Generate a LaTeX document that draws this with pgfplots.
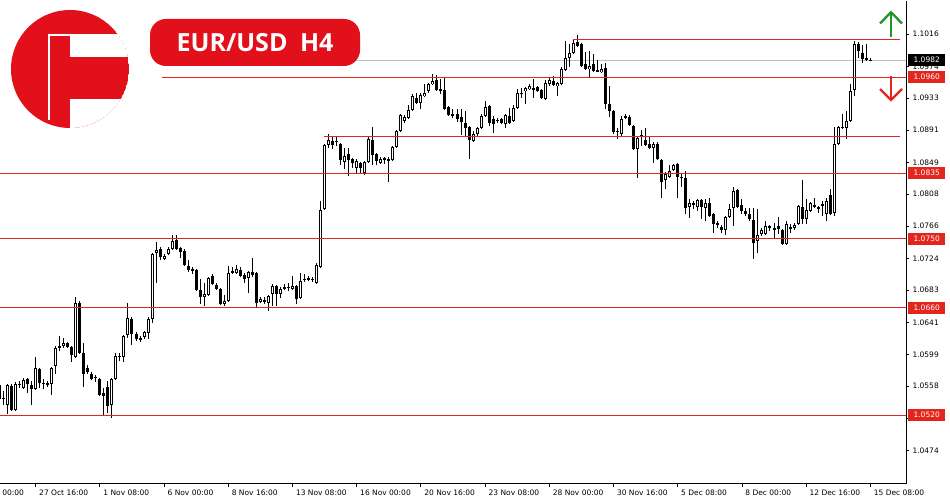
\documentclass[border=0pt]{standalone}
\usepackage{fontspec}
\setmainfont{DejaVu Sans}
\newfontfamily\titlefont{Open Sans}
\usepackage{pgfplots}
\usepackage{pgfplotstable}
\pgfplotsset{compat=1.18}
\definecolor{mtred}{RGB}{226,38,30}
\definecolor{logored}{RGB}{226,16,26}
\definecolor{upgreen}{RGB}{30,150,40}
\definecolor{bidgrey}{RGB}{192,192,192}

\pgfplotstableread{
x o h l c
-1 1.05598 1.05624 1.05390 1.05416
0 1.05429 1.05520 1.05338 1.05416
1 1.05338 1.05611 1.05221 1.05598
2 1.05585 1.05611 1.05260 1.05273
3 1.05273 1.05637 1.05260 1.05611
4 1.05598 1.05650 1.05559 1.05611
5 1.05559 1.05689 1.05546 1.05663
6 1.05676 1.05689 1.05494 1.05611
7 1.05598 1.05650 1.05338 1.05546
8 1.05546 1.05962 1.05533 1.05819
9 1.05806 1.05819 1.05559 1.05624
10 1.05611 1.05676 1.05546 1.05624
11 1.05611 1.05650 1.05572 1.05611
12 1.05611 1.05832 1.05468 1.05819
13 1.05845 1.06105 1.05741 1.06079
14 1.06079 1.06235 1.06040 1.06105
15 1.06105 1.06209 1.06079 1.06144
16 1.06144 1.06157 1.06079 1.06092
17 1.06092 1.06105 1.05897 1.05988
18 1.05962 1.06742 1.05949 1.06664
19 1.06664 1.06690 1.06001 1.06014
20 1.06014 1.06144 1.05572 1.05741
21 1.05819 1.05858 1.05741 1.05767
22 1.05741 1.05767 1.05663 1.05676
23 1.05702 1.05728 1.05637 1.05689
24 1.05676 1.05689 1.05455 1.05468
25 1.05494 1.05559 1.05208 1.05455
26 1.05572 1.05650 1.05234 1.05325
27 1.05338 1.05689 1.05169 1.05676
28 1.05676 1.06014 1.05663 1.05975
29 1.05962 1.06014 1.05910 1.05975
30 1.05962 1.06248 1.05897 1.06235
31 1.06248 1.06664 1.06209 1.06469
32 1.06456 1.06482 1.06118 1.06261
33 1.06261 1.06287 1.06170 1.06196
34 1.06209 1.06235 1.06157 1.06183
35 1.06222 1.06300 1.06196 1.06287
36 1.06274 1.06482 1.06196 1.06456
37 1.06456 1.07314 1.06404 1.07301
38 1.07314 1.07457 1.06924 1.07353
39 1.07366 1.07392 1.07223 1.07262
40 1.07236 1.07301 1.07223 1.07275
41 1.07301 1.07392 1.07288 1.07366
42 1.07366 1.07548 1.07353 1.07470
43 1.07483 1.07548 1.07353 1.07366
44 1.07379 1.07392 1.07249 1.07327
45 1.07340 1.07366 1.07145 1.07158
46 1.07145 1.07223 1.07067 1.07093
47 1.07093 1.07132 1.07041 1.07093
48 1.07093 1.07106 1.06820 1.06833
49 1.06833 1.06976 1.06651 1.06742
50 1.06742 1.06924 1.06625 1.06781
51 1.06768 1.07002 1.06755 1.06989
52 1.07015 1.07041 1.06898 1.06911
53 1.06898 1.06924 1.06833 1.06846
54 1.06846 1.06859 1.06638 1.06651
55 1.06651 1.06768 1.06625 1.06690
56 1.06690 1.07145 1.06677 1.07054
57 1.07067 1.07132 1.07041 1.07067
58 1.07054 1.07158 1.07041 1.07106
59 1.07093 1.07132 1.07002 1.07015
60 1.07028 1.07054 1.06924 1.06976
61 1.06989 1.07080 1.06794 1.07067
62 1.07067 1.07249 1.07002 1.07028
63 1.07054 1.07067 1.06599 1.06664
64 1.06677 1.06742 1.06664 1.06716
65 1.06690 1.06742 1.06651 1.06690
66 1.06664 1.06768 1.06560 1.06755
67 1.06781 1.06911 1.06625 1.06885
68 1.06885 1.06898 1.06625 1.06781
69 1.06781 1.06872 1.06729 1.06846
70 1.06859 1.06911 1.06833 1.06859
71 1.06859 1.06924 1.06820 1.06872
72 1.06846 1.07015 1.06833 1.06885
73 1.06885 1.06898 1.06651 1.06716
74 1.06729 1.07054 1.06716 1.06950
75 1.06963 1.07041 1.06937 1.06976
76 1.06976 1.07015 1.06950 1.06976
77 1.06976 1.07002 1.06937 1.06963
78 1.06924 1.07184 1.06911 1.07158
79 1.07132 1.07990 1.07119 1.07873
80 1.07886 1.08731 1.07873 1.08718
81 1.08718 1.08861 1.08679 1.08783
82 1.08770 1.08822 1.08666 1.08718
83 1.08770 1.08822 1.08705 1.08757
84 1.08731 1.08744 1.08458 1.08523
85 1.08497 1.08679 1.08406 1.08575
86 1.08601 1.08679 1.08315 1.08523
87 1.08536 1.08549 1.08419 1.08484
88 1.08419 1.08536 1.08354 1.08510
89 1.08484 1.08497 1.08341 1.08419
90 1.08354 1.08510 1.08328 1.08497
91 1.08497 1.08822 1.08484 1.08796
92 1.08783 1.08952 1.08458 1.08588
93 1.08601 1.08614 1.08458 1.08510
94 1.08484 1.08562 1.08471 1.08536
95 1.08536 1.08562 1.08471 1.08536
96 1.08523 1.08562 1.08237 1.08536
97 1.08523 1.08705 1.08510 1.08692
98 1.08692 1.08913 1.08679 1.08900
99 1.08900 1.09121 1.08887 1.09108
100 1.09030 1.09108 1.09004 1.09082
101 1.09069 1.09238 1.09056 1.09173
102 1.09173 1.09381 1.09160 1.09355
103 1.09329 1.09394 1.09251 1.09264
104 1.09264 1.09394 1.09186 1.09368
105 1.09355 1.09511 1.09342 1.09394
106 1.09420 1.09524 1.09394 1.09511
107 1.09511 1.09641 1.09498 1.09550
108 1.09563 1.09628 1.09420 1.09433
109 1.09433 1.09576 1.09381 1.09433
110 1.09433 1.09589 1.09173 1.09186
111 1.09212 1.09225 1.09095 1.09108
112 1.09121 1.09186 1.09069 1.09095
113 1.09121 1.09186 1.09017 1.09056
114 1.09082 1.09186 1.08848 1.09017
115 1.09004 1.09160 1.08835 1.08939
116 1.08952 1.08965 1.08536 1.08783
117 1.08770 1.08900 1.08757 1.08861
118 1.08861 1.08952 1.08835 1.08939
119 1.08939 1.09121 1.08926 1.09095
120 1.09095 1.09290 1.09082 1.09212
121 1.09225 1.09238 1.08965 1.09004
122 1.09056 1.09095 1.08874 1.08991
123 1.09043 1.09069 1.09004 1.09043
124 1.09056 1.09069 1.08991 1.09004
125 1.08991 1.09121 1.08939 1.09108
126 1.09095 1.09199 1.08991 1.09004
127 1.09030 1.09238 1.09017 1.09199
128 1.09199 1.09446 1.09186 1.09394
129 1.09394 1.09459 1.09329 1.09394
130 1.09420 1.09472 1.09251 1.09459
131 1.09446 1.09511 1.09433 1.09485
132 1.09446 1.09576 1.09329 1.09459
133 1.09472 1.09485 1.09407 1.09420
134 1.09433 1.09446 1.09316 1.09329
135 1.09316 1.09563 1.09303 1.09524
136 1.09511 1.09589 1.09485 1.09563
137 1.09550 1.09615 1.09485 1.09498
138 1.09485 1.09537 1.09355 1.09524
139 1.09511 1.09732 1.09498 1.09706
140 1.09693 1.10070 1.09680 1.09849
141 1.09849 1.10031 1.09732 1.09914
142 1.09914 1.10083 1.09901 1.10044
143 1.10057 1.10148 1.09992 1.10005
144 1.10031 1.10044 1.09732 1.09745
145 1.09771 1.09927 1.09693 1.09706
146 1.09706 1.09940 1.09589 1.09745
147 1.09771 1.09901 1.09667 1.09680
148 1.09680 1.09823 1.09667 1.09693
149 1.09667 1.09771 1.09654 1.09706
150 1.09719 1.09784 1.09186 1.09251
151 1.09251 1.09485 1.09082 1.09160
152 1.09160 1.09173 1.08861 1.08887
153 1.08900 1.08939 1.08796 1.08900
154 1.08861 1.09095 1.08835 1.09056
155 1.09069 1.09121 1.09056 1.09095
156 1.09082 1.09108 1.08965 1.08978
157 1.08965 1.08978 1.08653 1.08666
158 1.08666 1.08822 1.08289 1.08809
159 1.08822 1.08913 1.08705 1.08848
160 1.08783 1.08939 1.08705 1.08718
161 1.08731 1.08835 1.08666 1.08679
162 1.08679 1.08757 1.08484 1.08731
163 1.08731 1.08757 1.08523 1.08536
164 1.08523 1.08536 1.08029 1.08237
165 1.08263 1.08367 1.08146 1.08341
166 1.08302 1.08458 1.08289 1.08380
167 1.08393 1.08471 1.08380 1.08458
168 1.08471 1.08484 1.08029 1.08302
169 1.08302 1.08341 1.08172 1.08289
170 1.08289 1.08380 1.07821 1.07899
171 1.07912 1.08016 1.07769 1.07964
172 1.07951 1.07990 1.07886 1.07951
173 1.07912 1.08016 1.07860 1.08003
174 1.08003 1.08016 1.07756 1.07912
175 1.07899 1.08016 1.07730 1.07964
176 1.07964 1.08029 1.07782 1.07795
177 1.07821 1.07834 1.07574 1.07691
178 1.07691 1.07730 1.07639 1.07691
179 1.07652 1.07678 1.07574 1.07613
180 1.07613 1.07795 1.07548 1.07782
181 1.07782 1.07951 1.07769 1.07886
182 1.07899 1.08172 1.07665 1.08120
183 1.08133 1.08146 1.07899 1.07912
184 1.07938 1.08016 1.07821 1.07860
185 1.07860 1.07899 1.07795 1.07821
186 1.07821 1.07899 1.07730 1.07756
187 1.07743 1.07899 1.07236 1.07444
188 1.07470 1.07886 1.07314 1.07548
189 1.07561 1.07639 1.07535 1.07613
190 1.07561 1.07730 1.07548 1.07665
191 1.07652 1.07678 1.07600 1.07652
192 1.07626 1.07704 1.07509 1.07626
193 1.07665 1.07782 1.07561 1.07626
194 1.07613 1.07626 1.07418 1.07431
195 1.07431 1.07730 1.07418 1.07691
196 1.07639 1.07691 1.07574 1.07639
197 1.07639 1.07704 1.07613 1.07678
198 1.07691 1.07938 1.07678 1.07925
199 1.07912 1.08263 1.07691 1.07756
200 1.07756 1.08016 1.07691 1.07873
201 1.07860 1.07977 1.07847 1.07964
202 1.07925 1.08029 1.07899 1.07925
203 1.07912 1.07925 1.07834 1.07886
204 1.07938 1.07990 1.07795 1.07938
205 1.07821 1.08029 1.07730 1.07990
206 1.08068 1.08146 1.07808 1.07821
207 1.07834 1.08952 1.07795 1.08731
208 1.08731 1.08965 1.08718 1.08952
209 1.08952 1.09121 1.08926 1.08952
210 1.08939 1.09160 1.08796 1.09030
211 1.09030 1.09511 1.09017 1.09420
212 1.09433 1.10070 1.09355 1.10031
213 1.10031 1.10057 1.09849 1.09940
214 1.09914 1.10018 1.09784 1.09836
215 1.09849 1.10031 1.09810 1.09823
216 1.09823 1.09849 1.09810 1.09823
}\candles

\begin{document}
\begin{tikzpicture}[x=1pt,y=1pt]
\begin{axis}[
  name=main,
  at={(0,21)}, anchor=south west,
  width=906pt, height=483pt, scale only axis,
  xmin=-0.897, xmax=224.9, ymin=1.04307, ymax=1.10593,
  axis x line=bottom, axis y line=right,
  axis line style={-, black, line width=1pt},
  tick align=outside, major tick length=3pt,
  tick style={black, line width=0.8pt},
  xtick={8,24,...,216},
  xticklabels={27 Oct 16:00,1 Nov 08:00,6 Nov 00:00,8 Nov 16:00,13 Nov 08:00,16 Nov 00:00,20 Nov 16:00,23 Nov 08:00,28 Nov 00:00,30 Nov 16:00,5 Dec 08:00,8 Dec 00:00,12 Dec 16:00,15 Dec 08:00},
  ytick={1.0474,1.0516,1.0558,1.0599,1.0641,1.0683,1.0724,1.0766,1.0808,1.0849,1.0891,1.0933,1.0974,1.1016},
  yticklabels={1.0474,1.0516,1.0558,1.0599,1.0641,1.0683,1.0724,1.0766,1.0808,1.0849,1.0891,1.0933,1.0974,1.1016},
  ticklabel style={font=\fontsize{7.5}{9}\selectfont, text=black},
  xticklabel style={anchor=north west, xshift=0pt},
  yticklabel style={anchor=west},
  clip=true,
]
% bid line
\addplot[bidgrey, line width=1pt, forget plot] coordinates {(87.6,1.0982) (226,1.0982)};
% wicks
\addplot[draw=none, mark=none, forget plot,
  error bars/.cd, y dir=both, y explicit, error mark=none,
  error bar style={draw=black, line width=1pt}]
  table[x=x, y expr={(\thisrow{h}+\thisrow{l})/2}, y error expr={(\thisrow{h}-\thisrow{l})/2}] {\candles};
% bullish bodies: outline
\addplot[draw=none, mark=none, forget plot,
  error bars/.cd, y dir=both, y explicit, error mark=none,
  error bar style={draw=black, line width=3pt}]
  table[x=x, y expr={(\thisrow{o}+\thisrow{c})/2}, y error expr={max(\thisrow{c}-\thisrow{o},0.00013)/2}] {\candles};
% bullish bodies: hollow inside
\addplot[draw=none, mark=none, forget plot,
  error bars/.cd, y dir=both, y explicit, error mark=none,
  error bar style={draw=white, line width=1pt}]
  table[x=x, y expr={(\thisrow{o}+\thisrow{c})/2}, y error expr={max((\thisrow{c}-\thisrow{o})/2-0.00013,0)}] {\candles};
% bearish bodies
\addplot[draw=none, mark=none, forget plot,
  error bars/.cd, y dir=both, y explicit, error mark=none,
  error bar style={draw=black, line width=3pt}]
  table[x=x, y expr={(\thisrow{o}+\thisrow{c})/2}, y error expr={max(\thisrow{o}-\thisrow{c},0)/2}] {\candles};
% levels
\addplot[mtred, line width=1pt, forget plot] coordinates {(-1,1.0835) (226,1.0835)};
\addplot[mtred, line width=1pt, forget plot] coordinates {(-1,1.0750) (226,1.0750)};
\addplot[mtred, line width=1pt, forget plot] coordinates {(-1,1.0660) (226,1.0660)};
\addplot[mtred, line width=1pt, forget plot] coordinates {(-1,1.0520) (226,1.0520)};
\addplot[mtred, line width=1pt, forget plot] coordinates {(39.5,1.0960) (226,1.0960)};
\addplot[mtred, line width=1pt, forget plot] coordinates {(141.9,1.1009) (223.4,1.1009)};
\addplot[mtred, line width=1pt, forget plot] coordinates {(79.9,1.0883) (223.4,1.0883)};
\coordinate (B0982) at (axis cs:224.9,1.0982);
\coordinate (B0960) at (axis cs:224.9,1.0960);
\coordinate (B0835) at (axis cs:224.9,1.0835);
\coordinate (B0750) at (axis cs:224.9,1.0750);
\coordinate (B0660) at (axis cs:224.9,1.0660);
\coordinate (B0520) at (axis cs:224.9,1.0520);
\coordinate (T0) at (axis cs:-8,1.04307);
\end{axis}
% cut-off first time label
\node[anchor=north west, font=\fontsize{7.5}{9}\selectfont, inner sep=0.333em, yshift=-3pt] at (T0) {25 Oct 00:00};
% price boxes
\tikzset{pbox/.style={anchor=west, xshift=2pt, minimum width=37pt, minimum height=12pt, inner sep=0pt, text=white, font=\fontsize{7.5}{9}\selectfont}}
\node[pbox, fill=black] at (B0982) {1.0982};
\node[pbox, fill=mtred] at (B0960) {1.0960};
\node[pbox, fill=mtred] at (B0835) {1.0835};
\node[pbox, fill=mtred] at (B0750) {1.0750};
\node[pbox, fill=mtred] at (B0660) {1.0660};
\node[pbox, fill=mtred] at (B0520) {1.0520};
% arrows
\draw[upgreen, line width=2.3pt] (891,463) -- (891,487);
\draw[upgreen, line width=2.3pt, line join=miter] (880,476.5) -- (891,487.8) -- (902,476.5);
\draw[mtred, line width=2.3pt] (891,423.5) -- (891,400.5);
\draw[mtred, line width=2.3pt, line join=miter] (880,411) -- (891,400) -- (902,411);
% title
\node[fill=logored, rounded corners=16pt, minimum width=210pt, minimum height=47pt, inner sep=0pt, text=white,
  font=\titlefont\bfseries\fontsize{25}{30}\selectfont] at (255,457.5) {EUR/USD\hspace{0.5em}H4};
% logo
\begin{scope}
\clip (70,431) circle (59);
\fill[logored] (70,431) circle (59);
\fill[white] (47.5,380) rectangle (50,463.5);
\fill[white] (47.5,463.5) rectangle (135,465.5);
\fill[white] (70,443) rectangle (135,463.5);
\fill[white] (70,360) rectangle (135,401);
\end{scope}
\pgfresetboundingbox
\path[use as bounding box] (0,0) rectangle (950,500);
\end{tikzpicture}
\end{document}
